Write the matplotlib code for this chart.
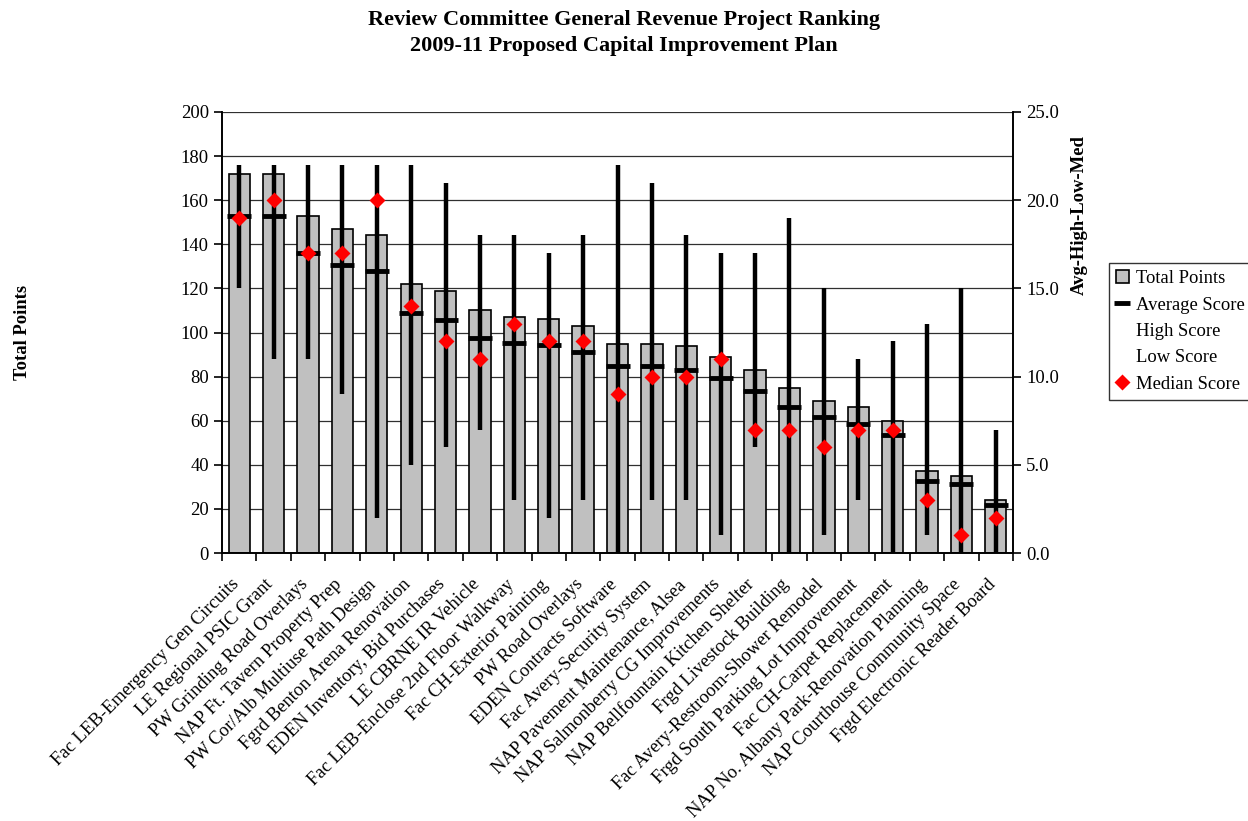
import matplotlib
matplotlib.use("Agg")
import matplotlib.pyplot as plt
from matplotlib.patches import Patch
from matplotlib.lines import Line2D
from matplotlib.transforms import ScaledTranslation
import numpy as np

plt.rcParams["font.family"] = ["Liberation Serif", "DejaVu Serif"]

projects = [
    "Fac LEB-Emergency Gen Circuits", "LE Regional PSIC Grant", "PW Grinding Road Overlays",
    "NAP Ft. Tavern Property Prep", "PW Cor/Alb Multiuse Path Design", "Fgrd Benton Arena Renovation",
    "EDEN Inventory, Bid Purchases", "LE CBRNE IR Vehicle", "Fac LEB-Enclose 2nd Floor Walkway",
    "Fac CH-Exterior Painting", "PW Road Overlays", "EDEN Contracts Software",
    "Fac Avery-Security System", "NAP Pavement Maintenance, Alsea", "NAP Salmonberry CG Improvements",
    "NAP Bellfountain Kitchen Shelter", "Frgd Livestock Building", "Fac Avery-Restroom-Shower Remodel",
    "Frgd South Parking Lot Improvement", "Fac CH-Carpet Replacement",
    "NAP No. Albany Park-Renovation Planning", "NAP Courthouse Community Space",
    "Frgd Electronic Reader Board",
]
total_points = [172, 172, 153, 147, 144, 122, 119, 110, 107, 106, 103, 95,
                95, 94, 89, 83, 75, 69, 66, 60, 37, 35, 24]
avg_score = [19.1, 19.1, 17.0, 16.3, 16.0, 13.6, 13.2, 12.2, 11.9, 11.8, 11.4, 10.6,
             10.6, 10.4, 9.9, 9.2, 8.3, 7.7, 7.3, 6.7, 4.1, 3.9, 2.7]
high_score = [22, 22, 22, 22, 22, 22, 21, 18, 18, 17, 18, 22,
              21, 18, 17, 17, 19, 15, 11, 12, 13, 15, 7]
low_score = [15, 11, 11, 9, 2, 5, 6, 7, 3, 2, 3, 0,
             3, 3, 1, 6, 0, 1, 3, 0, 1, 0, 0]
median_score = [19, 20, 17, 17, 20, 14, 12, 11, 13, 12, 12, 9,
                10, 10, 11, 7, 7, 6, 7, 7, 3, 1, 2]

FS = 13.4
x = np.arange(len(projects))

fig = plt.figure(figsize=(12.48, 8.21), dpi=100)
ax = fig.add_axes([0.1779, 0.3264, 0.6338, 0.5372])
ax2 = ax.twinx()

ax.bar(x, total_points, width=0.62, color="#c0c0c0", edgecolor="black", linewidth=1.2, zorder=2)
ax.set_ylim(0, 200)
ax.set_xlim(-0.5, len(projects) - 0.5)
ax.set_yticks(np.arange(0, 201, 20))
ax.grid(axis="y", color="#303030", linewidth=0.9, zorder=0)
ax.set_axisbelow(True)

ax2.vlines(x, low_score, high_score, color="black", linewidth=3.2, zorder=3)
ax2.plot(x, avg_score, ls="none", marker="_", ms=17, mew=3.5, color="black", zorder=4)
ax2.plot(x, median_score, ls="none", marker="D", ms=8, color="#ff0000", mec="none", zorder=5)
ax2.set_ylim(0, 25)
ax2.set_yticks(np.arange(0, 26, 5))
ax2.set_yticklabels([f"{v:.1f}" for v in np.arange(0, 26, 5)])

for a in (ax, ax2):
    a.spines["top"].set_visible(False)
    for s in ("left", "right", "bottom"):
        a.spines[s].set_linewidth(1.2)
    a.tick_params(axis="y", direction="out", length=6, width=1.2, labelsize=FS)

ax.set_xticks(x)
ax.set_xticklabels(projects, rotation=45, ha="right", rotation_mode="anchor", fontsize=FS)
ax.tick_params(axis="x", which="major", length=0, pad=10)
ax.set_xticks(np.arange(-0.5, len(projects), 1.0), minor=True)
ax.tick_params(axis="x", which="minor", direction="out", length=6, width=1.2)
shift = ScaledTranslation(-9 / 100, -9 / 100, fig.dpi_scale_trans)
for lbl in ax.get_xticklabels():
    lbl.set_transform(lbl.get_transform() + shift)

fig.text(0.5, 1 - 25 / 821, "Review Committee General Revenue Project Ranking",
         ha="center", va="baseline", fontsize=16, fontweight="bold")
fig.text(0.5, 1 - 51 / 821, "2009-11 Proposed Capital Improvement Plan",
         ha="center", va="baseline", fontsize=16, fontweight="bold")
fig.text(0.018, 0.595, "Total Points", rotation=90, ha="center", va="center", fontsize=FS, fontweight="bold")
fig.text(0.8646, 0.738, "Avg-High-Low-Med", rotation=90, ha="center", va="center", fontsize=FS, fontweight="bold")

handles = [
    Patch(facecolor="#c0c0c0", edgecolor="black", linewidth=1.2),
    Line2D([], [], ls="none", marker="_", ms=11, mew=3.5, color="black"),
    Line2D([], [], ls="none"),
    Line2D([], [], ls="none"),
    Line2D([], [], ls="none", marker="D", ms=8, color="#ff0000", mec="none"),
]
labels = ["Total Points", "Average Score", "High Score", "Low Score", "Median Score"]
leg = fig.legend(handles, labels, loc="upper left", bbox_to_anchor=(1109 / 1248, 1 - 263 / 821),
                 borderaxespad=0, fontsize=FS, frameon=True, fancybox=False, edgecolor="black",
                 handlelength=0.65, handletextpad=0.4, labelspacing=0.5, borderpad=0.4)
leg.get_frame().set_linewidth(1.0)

fig.savefig("out.png", dpi=100)
